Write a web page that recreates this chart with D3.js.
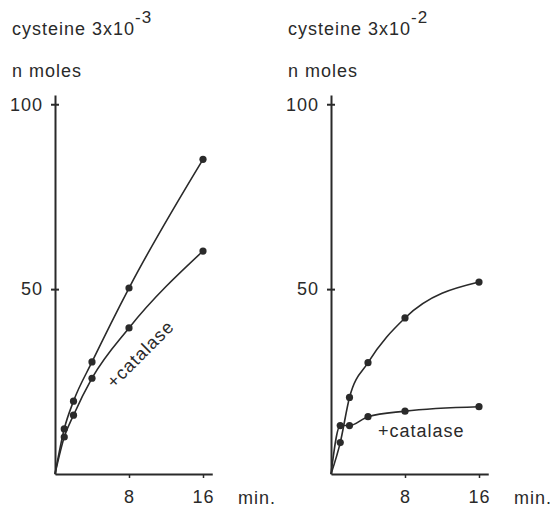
<!DOCTYPE html>
<html>
<head>
<meta charset="utf-8">
<script src="https://cdn.jsdelivr.net/npm/d3@7"></script>
<style>
  body { margin: 0; background: #fff; }
  svg text { font-family: "Liberation Sans", Arial, sans-serif; fill: #2a2a2a; letter-spacing: 1px; }
</style>
</head>
<body>
<svg width="551" height="507"></svg>
<script>
// time in minutes, n moles
var minutes = [0, 1, 2, 4, 8, 16];
var lowCys = [0, 12.2, 19.7, 30.3, 50.3, 85.1];
var lowCysCatalase = [0, 10.0, 15.9, 25.9, 39.5, 60.3];
var highCys = [0, 8.5, 20.7, 30.1, 42.2, 51.9];
var highCysCatalase = [0, 13.1, 13.1, 15.5, 17.0, 18.2];
var yTicks = [50, 100];
var xTicks = [8, 16];

var svg = d3.select('svg'),
    ink = '#2a2a2a';

var y = d3.scaleLinear().domain([0, 102.5]).range([474, 95]);

function panel(left, exponent, plain, withCatalase) {
  var x = d3.scaleLinear().domain([0, 17]).range([left, left + 157.25]);
  var g = svg.append('g');

  // y axis, ticks crossing the line
  g.append('g')
    .attr('transform', 'translate(' + left + ',0)')
    .call(d3.axisLeft(y).tickValues(yTicks).tickSize(4).tickSizeOuter(0).tickPadding(8))
    .call(function(a) {
      a.select('.domain').attr('stroke', ink).attr('stroke-width', 2);
      a.selectAll('line').attr('stroke', ink).attr('stroke-width', 2);
      a.selectAll('text').attr('font-size', 18).style('fill', ink);
    });
  g.append('g')
    .attr('transform', 'translate(' + left + ',0)')
    .call(d3.axisRight(y).tickValues(yTicks).tickSize(4).tickSizeOuter(0).tickFormat(''))
    .call(function(a) {
      a.select('.domain').remove();
      a.selectAll('line').attr('stroke', ink).attr('stroke-width', 2);
    });

  // x axis
  g.append('g')
    .attr('transform', 'translate(0,' + y(0) + ')')
    .call(d3.axisBottom(x).tickValues(xTicks).tickSize(4).tickSizeOuter(0).tickPadding(12))
    .call(function(a) {
      a.select('.domain').attr('stroke', ink).attr('stroke-width', 2);
      a.selectAll('line').attr('stroke', ink).attr('stroke-width', 1.5);
      a.selectAll('text').attr('font-size', 18).style('fill', ink);
    });

  g.append('text').attr('x', left + 183).attr('y', 504)
    .attr('font-size', 18).text('min.');

  // titles
  var t = g.append('text').attr('x', left - 43).attr('y', 35).attr('font-size', 18);
  t.append('tspan').text('cysteine 3x10');
  t.append('tspan').attr('dy', -12).attr('font-size', 17).text('-' + exponent);
  g.append('text').attr('x', left - 43).attr('y', 77)
    .attr('font-size', 18).text('n moles');

  var line = d3.line()
    .curve(d3.curveMonotoneX)
    .x(function(d, i) { return x(minutes[i]); })
    .y(function(d) { return y(d); });

  [plain, withCatalase].forEach(function(s) {
    g.append('path')
      .attr('d', line(s))
      .attr('fill', 'none')
      .attr('stroke', ink)
      .attr('stroke-width', 1.6);
    g.selectAll(null)
      .data(s.slice(1))
      .enter().append('circle')
      .attr('cx', function(d, i) { return x(minutes[i + 1]); })
      .attr('cy', function(d) { return y(d); })
      .attr('r', 3.6)
      .attr('fill', ink);
  });
  return x;
}

panel(55, 3, lowCys, lowCysCatalase);
panel(331, 2, highCys, highCysCatalase);

svg.append('text')
  .attr('font-size', 18)
  .attr('transform', 'translate(114,389) rotate(-45)')
  .text('+catalase');
svg.append('text')
  .attr('font-size', 18)
  .attr('x', 378).attr('y', 437)
  .text('+catalase');
</script>
</body>
</html>
